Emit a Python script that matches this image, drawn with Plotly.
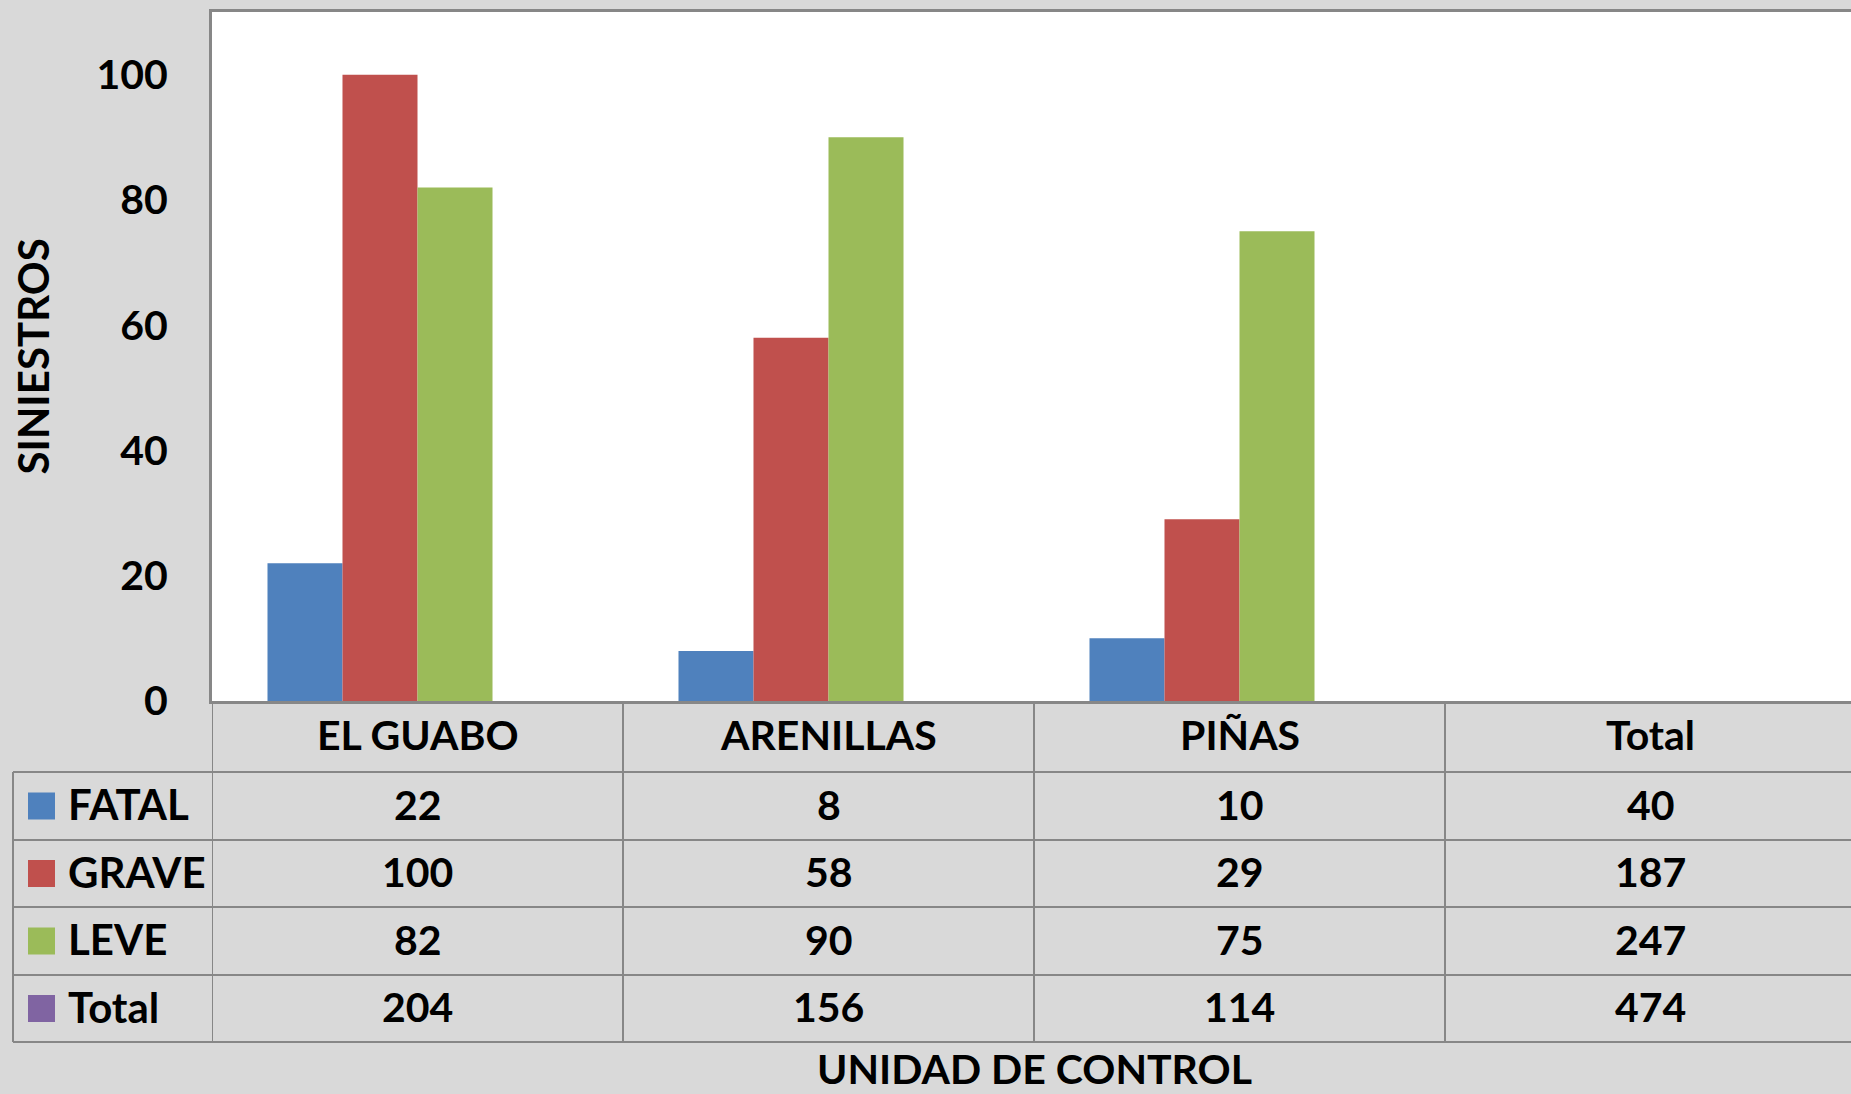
import plotly.graph_objects as go

# ---- data ----
units = ["EL GUABO", "ARENILLAS", "PIÑAS", "Total"]
series_names = ["FATAL", "GRAVE", "LEVE", "Total"]
fatal = [22, 8, 10, 40]
grave = [100, 58, 29, 187]
leve = [82, 90, 75, 247]
total = [204, 156, 114, 474]
y_ticks = [0, 20, 40, 60, 80, 100]

colors = ["#4F81BD", "#C0504D", "#9BBB59", "#8064A2"]
series_values = [fatal, grave, leve, total]

W, H = 1851, 1094
L, T, B = 212, 12, 393
plot_h = H - T - B  # 689
plot_w = W - L
cat_px = 411.0
FONT = "Lato"
GRID = "#878787"
BG = "#D9D9D9"

def py(px):
    """pixel row -> paper y"""
    return (H - B - px) / plot_h

def pxx(px):
    return (px - L) / plot_w

fig = go.Figure()
n_plot = 3  # the 'Total' category is not drawn as bars
for i, (name, vals) in enumerate(zip(series_names, series_values)):
    yv = [v for v in vals[:n_plot]] + [None] * (len(units) - n_plot)
    col = colors[i] if name != "Total" else "rgba(0,0,0,0)"
    fig.add_trace(go.Bar(x=units, y=yv, name=name, marker=dict(color=col, line=dict(width=0)),
                         showlegend=False))

fig.update_layout(
    width=W, height=H,
    margin=dict(l=L, r=0, t=T, b=B, pad=0),
    paper_bgcolor=BG, plot_bgcolor="white",
    barmode="group", bargap=0.27, bargroupgap=0,
    font=dict(family=FONT, size=41, color="black", weight=700),
    xaxis=dict(type="category", range=[-0.5, -0.5 + plot_w / cat_px], showticklabels=False,
               showline=True, linecolor=GRID, linewidth=3, mirror=True, ticks="",
               showgrid=False, zeroline=False, fixedrange=True),
    yaxis=dict(range=[0, 110], tickvals=y_ticks, showgrid=False, zeroline=False,
               showline=True, linecolor=GRID, linewidth=3, mirror=False, ticks="",
               ticklabelstandoff=33, tickfont=dict(size=41, family=FONT, weight=700)),
)

shapes = []
row_lines = [772, 840, 907, 975, 1042]
row_centers = [804, 871.5, 939, 1006.5]
header_center = 734.5
left_px = 13
# horizontal lines
for r in row_lines:
    shapes.append(dict(type="line", xref="paper", yref="paper", x0=pxx(left_px), x1=1,
                       y0=py(r), y1=py(r), line=dict(color=GRID, width=2), layer="above"))
# left outer vertical line
shapes.append(dict(type="line", xref="paper", yref="paper", x0=pxx(left_px), x1=pxx(left_px),
                   y0=py(772), y1=py(1042), line=dict(color=GRID, width=2)))
# category boundaries
for k in range(len(units)):
    xb = k - 0.5
    shapes.append(dict(type="line", xref="x", yref="paper", x0=xb, x1=xb,
                       y0=0, y1=py(1042), line=dict(color=GRID, width=2)))

annotations = []
# category headers
for k, u in enumerate(units):
    annotations.append(dict(x=k, xref="x", y=py(header_center), yref="paper", text=u,
                            showarrow=False, xanchor="center", yanchor="middle",
                            font=dict(size=41, family=FONT, weight=700)))
# rows
for i, (name, vals) in enumerate(zip(series_names, series_values)):
    yc = py(row_centers[i])
    ysq = py(row_centers[i] + 2)
    half = 13.5 / plot_h
    shapes.append(dict(type="rect", xref="paper", yref="paper", x0=pxx(28), x1=pxx(55),
                       y0=ysq - half, y1=ysq + half, fillcolor=colors[i], line=dict(width=0)))
    annotations.append(dict(x=pxx(66), xref="paper", y=yc, yref="paper", text=name,
                            showarrow=False, xanchor="left", yanchor="middle",
                            font=dict(size=42, family=FONT, weight=700)))
    for k, v in enumerate(vals):
        annotations.append(dict(x=k, xref="x", y=yc, yref="paper", text=str(v),
                                showarrow=False, xanchor="center", yanchor="middle",
                                font=dict(size=41, family=FONT, weight=700)))

# axis titles
annotations.append(dict(x=pxx(32), xref="paper", y=0.5, yref="paper", text="SINIESTROS",
                        textangle=-90, showarrow=False, xanchor="center", yanchor="middle",
                        font=dict(size=42, family=FONT, weight=700)))
annotations.append(dict(x=(len(units) - 1) / 2, xref="x", y=py(1068), yref="paper",
                        text="UNIDAD DE CONTROL", showarrow=False, xanchor="center",
                        yanchor="middle", font=dict(size=41, family=FONT, weight=700)))

fig.update_layout(shapes=shapes, annotations=annotations)
fig.write_html("out.html",
               config={"displayModeBar": False},
               post_script="document.body.style.margin='0';"
                           "document.body.style.background='#D9D9D9';"
                           "document.body.style.overflow='hidden';")
